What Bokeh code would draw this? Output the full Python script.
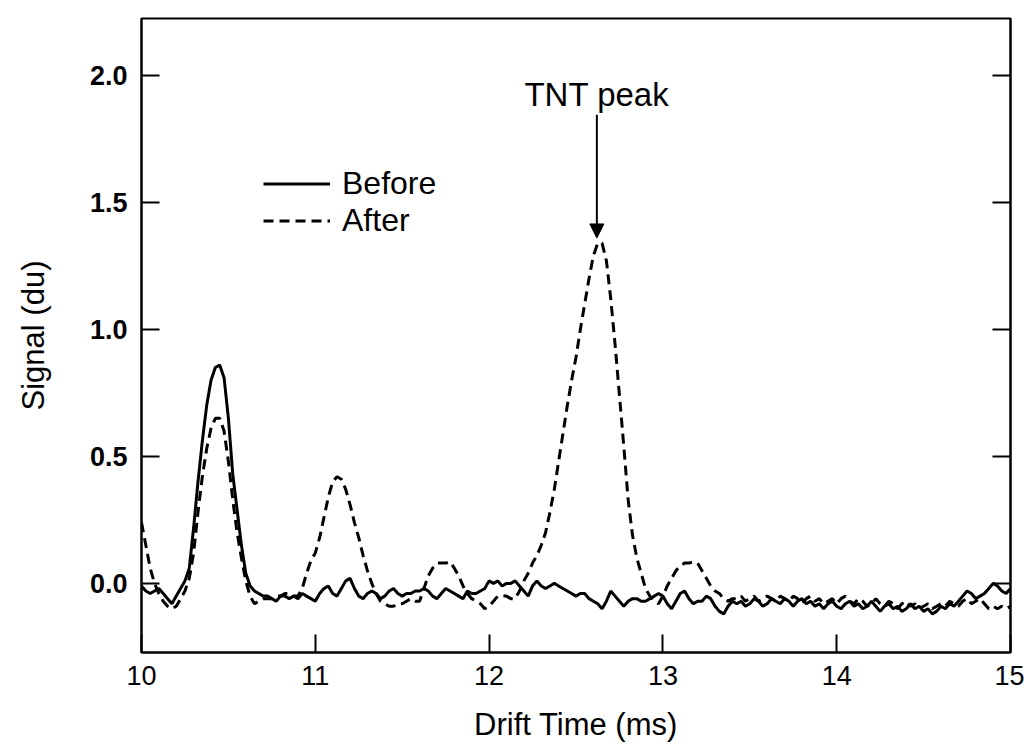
from bokeh.plotting import figure
from bokeh.models import (LinearAxis, Range1d, FixedTicker, Legend, LegendItem,
                          Label, Arrow, NormalHead, ColumnDataSource, NumeralTickFormatter)
from bokeh.embed import file_html
from bokeh.resources import INLINE

# ---------------- data ----------------
drift_time = [
    10.000, 10.025, 10.050, 10.075, 10.100, 10.125, 10.150, 10.175,
    10.200, 10.225, 10.250, 10.275, 10.300, 10.325, 10.350, 10.375,
    10.400, 10.425, 10.450, 10.475, 10.500, 10.525, 10.550, 10.575,
    10.600, 10.625, 10.650, 10.675, 10.700, 10.725, 10.750, 10.775,
    10.800, 10.825, 10.850, 10.875, 10.900, 10.925, 10.950, 10.975,
    11.000, 11.025, 11.050, 11.075, 11.100, 11.125, 11.150, 11.175,
    11.200, 11.225, 11.250, 11.275, 11.300, 11.325, 11.350, 11.375,
    11.400, 11.425, 11.450, 11.475, 11.500, 11.525, 11.550, 11.575,
    11.600, 11.625, 11.650, 11.675, 11.700, 11.725, 11.750, 11.775,
    11.800, 11.825, 11.850, 11.875, 11.900, 11.925, 11.950, 11.975,
    12.000, 12.025, 12.050, 12.075, 12.100, 12.125, 12.150, 12.175,
    12.200, 12.225, 12.250, 12.275, 12.300, 12.325, 12.350, 12.375,
    12.400, 12.425, 12.450, 12.475, 12.500, 12.525, 12.550, 12.575,
    12.600, 12.625, 12.650, 12.675, 12.700, 12.725, 12.750, 12.775,
    12.800, 12.825, 12.850, 12.875, 12.900, 12.925, 12.950, 12.975,
    13.000, 13.025, 13.050, 13.075, 13.100, 13.125, 13.150, 13.175,
    13.200, 13.225, 13.250, 13.275, 13.300, 13.325, 13.350, 13.375,
    13.400, 13.425, 13.450, 13.475, 13.500, 13.525, 13.550, 13.575,
    13.600, 13.625, 13.650, 13.675, 13.700, 13.725, 13.750, 13.775,
    13.800, 13.825, 13.850, 13.875, 13.900, 13.925, 13.950, 13.975,
    14.000, 14.025, 14.050, 14.075, 14.100, 14.125, 14.150, 14.175,
    14.200, 14.225, 14.250, 14.275, 14.300, 14.325, 14.350, 14.375,
    14.400, 14.425, 14.450, 14.475, 14.500, 14.525, 14.550, 14.575,
    14.600, 14.625, 14.650, 14.675, 14.700, 14.725, 14.750, 14.775,
    14.800, 14.825, 14.850, 14.875, 14.900, 14.925, 14.950, 14.975,
    15.000,
]

signal_before = [
    -0.01, -0.03, -0.04, -0.03, -0.02, -0.04, -0.06, -0.08,
    -0.05, -0.02, 0.01, 0.06, 0.22, 0.40, 0.56, 0.70,
    0.80, 0.85, 0.86, 0.81, 0.65, 0.43, 0.29, 0.15,
    0.04, -0.01, -0.03, -0.04, -0.05, -0.05, -0.06, -0.07,
    -0.05, -0.05, -0.06, -0.05, -0.06, -0.04, -0.05, -0.06,
    -0.07, -0.04, -0.02, -0.01, -0.04, -0.05, -0.02, 0.01,
    0.02, -0.02, -0.05, -0.06, -0.04, -0.03, -0.04, -0.06,
    -0.05, -0.03, -0.02, -0.04, -0.05, -0.04, -0.04, -0.03,
    -0.03, -0.02, -0.03, -0.05, -0.06, -0.04, -0.02, -0.03,
    -0.04, -0.05, -0.06, -0.03, -0.04, -0.04, -0.03, -0.02,
    0.01, 0.00, 0.01, -0.01, 0.00, 0.00, 0.01, -0.01,
    -0.03, -0.05, -0.01, 0.01, -0.01, -0.02, -0.01, 0.00,
    -0.01, -0.02, -0.03, -0.04, -0.05, -0.04, -0.04, -0.06,
    -0.07, -0.08, -0.10, -0.07, -0.03, -0.05, -0.07, -0.09,
    -0.07, -0.06, -0.06, -0.07, -0.07, -0.06, -0.05, -0.04,
    -0.05, -0.08, -0.10, -0.07, -0.04, -0.03, -0.06, -0.08,
    -0.07, -0.07, -0.05, -0.06, -0.09, -0.11, -0.12, -0.09,
    -0.07, -0.08, -0.07, -0.09, -0.08, -0.06, -0.07, -0.09,
    -0.08, -0.06, -0.07, -0.08, -0.06, -0.07, -0.09, -0.07,
    -0.06, -0.08, -0.07, -0.09, -0.08, -0.10, -0.08, -0.07,
    -0.09, -0.10, -0.08, -0.07, -0.09, -0.08, -0.10, -0.09,
    -0.07, -0.09, -0.11, -0.09, -0.08, -0.10, -0.09, -0.11,
    -0.10, -0.08, -0.10, -0.09, -0.11, -0.10, -0.12, -0.11,
    -0.09, -0.10, -0.08, -0.09, -0.07, -0.05, -0.03, -0.04,
    -0.06, -0.05, -0.04, -0.02, 0.00, -0.01, -0.03, -0.04,
    -0.02,
]

signal_after = [
    0.24, 0.15, 0.06, 0.00, -0.04, -0.07, -0.09, -0.10,
    -0.09, -0.06, -0.03, 0.02, 0.12, 0.28, 0.42, 0.53,
    0.61, 0.65, 0.65, 0.60, 0.48, 0.33, 0.20, 0.10,
    0.01, -0.05, -0.08, -0.07, -0.06, -0.06, -0.06, -0.05,
    -0.05, -0.04, -0.04, -0.05, -0.05, -0.02, 0.04, 0.09,
    0.12, 0.18, 0.26, 0.34, 0.40, 0.42, 0.41, 0.37,
    0.31, 0.24, 0.18, 0.11, 0.05, 0.00, -0.04, -0.07,
    -0.08, -0.09, -0.09, -0.08, -0.08, -0.07, -0.06, -0.07,
    -0.07, -0.02, 0.03, 0.06, 0.08, 0.08, 0.08, 0.085,
    0.06, 0.03, -0.01, -0.04, -0.06, -0.07, -0.08, -0.10,
    -0.09, -0.07, -0.05, -0.05, -0.05, -0.06, -0.06, -0.03,
    0.01, 0.04, 0.08, 0.11, 0.15, 0.20, 0.28, 0.37,
    0.48, 0.59, 0.70, 0.80, 0.89, 1.00, 1.10, 1.20,
    1.29, 1.34, 1.34, 1.27, 1.12, 0.94, 0.74, 0.54,
    0.33, 0.19, 0.10, 0.04, -0.02, -0.05, -0.07, -0.08,
    -0.05, -0.01, 0.02, 0.05, 0.07, 0.08, 0.08, 0.085,
    0.08, 0.05, 0.02, -0.01, -0.03, -0.04, -0.06, -0.07,
    -0.06, -0.06, -0.05, -0.07, -0.06, -0.05, -0.07, -0.06,
    -0.05, -0.06, -0.07, -0.05, -0.06, -0.07, -0.05, -0.06,
    -0.08, -0.06, -0.05, -0.07, -0.06, -0.08, -0.07, -0.06,
    -0.08, -0.06, -0.05, -0.07, -0.08, -0.06, -0.07, -0.09,
    -0.08, -0.06, -0.08, -0.09, -0.07, -0.08, -0.10, -0.08,
    -0.07, -0.09, -0.08, -0.10, -0.09, -0.08, -0.10, -0.09,
    -0.08, -0.09, -0.07, -0.08, -0.09, -0.07, -0.06, -0.08,
    -0.07, -0.06, -0.08, -0.10, -0.09, -0.10, -0.09, -0.10,
    -0.09,
]

x_ticks = [10, 11, 12, 13, 14, 15]
y_ticks = [0.0, 0.5, 1.0, 1.5, 2.0]
series_labels = ["Before", "After"]
peak_label = "TNT peak"
peak_time = 12.62
peak_signal = 1.36

# ---------------- figure ----------------
SANS = "Liberation Sans"

p = figure(width=1024, height=747, output_backend="svg", toolbar_location=None,
           x_range=Range1d(10, 15), y_range=Range1d(-0.272, 2.224),
           min_border_left=141, min_border_right=14, min_border_top=18,
           min_border_bottom=95)
p.background_fill_color = "white"
p.border_fill_color = "white"
p.outline_line_color = "black"
p.outline_line_width = 2
p.xgrid.visible = False
p.ygrid.visible = False

src = ColumnDataSource(dict(t=drift_time, before=signal_before, after=signal_after))
r_before = p.line("t", "before", source=src, line_color="black", line_width=3)
r_after = p.line("t", "after", source=src, line_color="black", line_width=3,
                 line_dash="10 6")

# x axis
xa = p.xaxis[0]
xa.ticker = FixedTicker(ticks=x_ticks)
xa.minor_tick_line_color = None
xa.major_tick_in = 18
xa.major_tick_out = 0
xa.major_tick_line_width = 2
xa.major_tick_line_color = "black"
xa.axis_line_width = 2
xa.axis_line_color = "black"
xa.major_label_text_font = SANS
xa.major_label_text_font_size = "27px"
xa.major_label_text_color = "black"
xa.major_label_standoff = 13
xa.axis_label = "Drift Time (ms)"
xa.axis_label_text_font = SANS
xa.axis_label_text_font_size = "31px"
xa.axis_label_text_font_style = "normal"
xa.axis_label_text_color = "black"
xa.axis_label_standoff = 19

# y axis
ya = p.yaxis[0]
ya.ticker = FixedTicker(ticks=y_ticks)
ya.formatter = NumeralTickFormatter(format="0.0")
ya.minor_tick_line_color = None
ya.major_tick_in = 18
ya.major_tick_out = 0
ya.major_tick_line_width = 2
ya.major_tick_line_color = "black"
ya.axis_line_width = 2
ya.axis_line_color = "black"
ya.major_label_text_font = SANS
ya.major_label_text_font_style = "bold"
ya.major_label_text_font_size = "27px"
ya.major_label_text_color = "black"
ya.major_label_standoff = 14
ya.axis_label = "Signal (du)"
ya.axis_label_text_font = SANS
ya.axis_label_text_font_size = "31px"
ya.axis_label_text_font_style = "normal"
ya.axis_label_text_color = "black"
ya.axis_label_standoff = 36

# right axis with inward ticks, no labels
ra = LinearAxis(ticker=FixedTicker(ticks=y_ticks), major_tick_in=18, major_tick_out=0,
                major_tick_line_width=2, major_tick_line_color="black",
                minor_tick_line_color=None, axis_line_width=2, axis_line_color="black",
                major_label_text_font_size="0px", major_label_text_color=None)
p.add_layout(ra, "right")

# legend
legend = Legend(items=[LegendItem(label=series_labels[0], renderers=[r_before]),
                       LegendItem(label=series_labels[1], renderers=[r_after])],
                location=(122, 413), orientation="vertical",
                label_text_font=SANS, label_text_font_size="32px",
                label_text_color="black",
                glyph_width=67, glyph_height=37, label_height=37, label_standoff=12,
                padding=0, margin=0, spacing=0,
                border_line_color=None, background_fill_alpha=0)
p.add_layout(legend)

# annotation
p.add_layout(Arrow(end=NormalHead(size=14, fill_color="black", line_color="black"),
                   x_start=peak_time, y_start=1.845, x_end=peak_time, y_end=peak_signal,
                   line_width=2, line_color="black"))
p.add_layout(Label(x=peak_time, y=1.925, text=peak_label, text_align="center",
                   text_baseline="alphabetic", text_font=SANS, text_font_size="33px",
                   text_color="black"))

open("out.html", "w").write(file_html(p, INLINE))
